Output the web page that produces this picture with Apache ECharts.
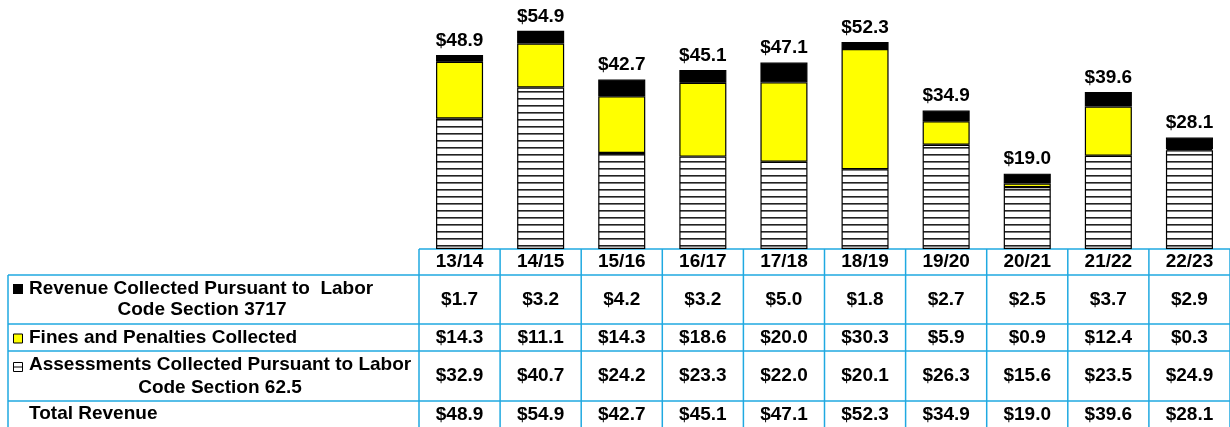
<!DOCTYPE html>
<html>
<head>
<meta charset="utf-8">
<script src="https://cdn.jsdelivr.net/npm/echarts@6/dist/echarts.min.js"></script>
<style>
  html, body { margin: 0; padding: 0; background: #fff; }
  #chart { width: 1230px; height: 427px; }
</style>
</head>
<body>
<div id="chart"></div>
<script>
// Fiscal years
const years = ['13/14', '14/15', '15/16', '16/17', '17/18', '18/19', '19/20', '20/21', '21/22', '22/23'];
// Revenue Collected Pursuant to Labor Code Section 3717 ($ millions)
const section3717 = [1.7, 3.2, 4.2, 3.2, 5.0, 1.8, 2.7, 2.5, 3.7, 2.9];
// Fines and Penalties Collected
const finesPenalties = [14.3, 11.1, 14.3, 18.6, 20.0, 30.3, 5.9, 0.9, 12.4, 0.3];
// Assessments Collected Pursuant to Labor Code Section 62.5
const assessments625 = [32.9, 40.7, 24.2, 23.3, 22.0, 20.1, 26.3, 15.6, 23.5, 24.9];
// Total Revenue
const totalRevenue = [48.9, 54.9, 42.7, 45.1, 47.1, 52.3, 34.9, 19.0, 39.6, 28.1];

const FONT = 'Liberation Sans';
const FS = 19;
const LINE = '#1fa9e1';
const fmt = v => '$' + v.toFixed(1);

// horizontal-stripe fill for the assessments segment
const hatch = document.createElement('canvas');
hatch.width = 8; hatch.height = 7;
const hc = hatch.getContext('2d');
hc.fillStyle = '#fff'; hc.fillRect(0, 0, 8, 7);
hc.fillStyle = '#222'; hc.fillRect(0, 0, 8, 1);
hc.fillStyle = '#777'; hc.fillRect(0, 1, 8, 1);

const chart = echarts.init(document.getElementById('chart'), null, { renderer: 'canvas' });

const boldText = { fontSize: FS, fontWeight: 'bold', color: '#000', fontFamily: FONT };

// table rows are extra category axes, labels centred at a set distance below the base line
const rowAxis = (vals, margin) => ({
  type: 'category', gridIndex: 0, position: 'bottom',
  data: vals.map(fmt),
  axisLine: { show: false }, axisTick: { show: false },
  axisLabel: Object.assign({ interval: 0, margin, verticalAlign: 'middle' }, boldText)
});

const seg = (name, data, color, extra) => Object.assign({
  name, type: 'bar', stack: 'rev', data, barWidth: '58%',
  xAxisIndex: 0, yAxisIndex: 0,
  itemStyle: { color, borderColor: '#000', borderWidth: 1.2 },
  emphasis: { disabled: true }
}, extra || {});

chart.setOption({
  animation: false,
  grid: { left: 419, top: 11, width: 812, height: 238, containLabel: false },
  yAxis: { type: 'value', min: 0, max: 60, show: false },
  xAxis: [
    {
      type: 'category', data: years,
      axisLine: { show: false }, axisTick: { show: false },
      axisLabel: Object.assign({ interval: 0, margin: 13, verticalAlign: 'middle' }, boldText)
    },
    rowAxis(section3717, 50.5),
    rowAxis(finesPenalties, 88.5),
    rowAxis(assessments625, 127),
    rowAxis(totalRevenue, 166)
  ],
  series: [
    seg('Assessments Collected Pursuant to Labor Code Section 62.5', assessments625, { image: hatch, repeat: 'repeat' }),
    seg('Fines and Penalties Collected', finesPenalties, '#ffff00'),
    seg('Revenue Collected Pursuant to Labor Code Section 3717', section3717, '#000', {
      label: Object.assign({
        show: true, position: 'top', distance: 5,
        formatter: p => '{t|' + fmt(totalRevenue[p.dataIndex]) + '}',
        rich: { t: Object.assign({}, boldText) }
      }, boldText)
    })
  ]
});

// data-table grid and row headings
function drawTable() {
  const c0 = chart.convertToPixel({ xAxisIndex: 0 }, years[0]);
  const c1 = chart.convertToPixel({ xAxisIndex: 0 }, years[1]);
  const band = c1 - c0;
  const left = c0 - band / 2;
  const axisY = chart.convertToPixel({ yAxisIndex: 0 }, 0);
  const W = chart.getWidth(), H = chart.getHeight();
  const rows = [275, 324, 351, 401];
  const els = [];
  const ln = (x1, y1, x2, y2) => els.push({
    type: 'line', shape: { x1, y1, x2, y2 }, silent: true,
    style: { stroke: LINE, lineWidth: 1.5 }
  });
  ln(left, axisY, W, axisY);
  rows.forEach(y => ln(8, y, W, y));
  ln(8, rows[0], 8, H);
  for (let k = 0; k <= years.length; k++) {
    const x = left + k * band;
    ln(x, axisY, x, H);
  }
  const txt = (x, y, text, align) => els.push({
    type: 'text', x, y, silent: true,
    style: { text, font: 'bold ' + FS + 'px "' + FONT + '"', fill: '#000', align: align || 'left', verticalAlign: 'middle' }
  });
  // Section 3717 row
  els.push({ type: 'rect', shape: { x: 13, y: 284, width: 10, height: 10 }, style: { fill: '#000' } });
  txt(29, 288.5, 'Revenue Collected Pursuant to  Labor');
  txt(202, 310, 'Code Section 3717', 'center');
  // Fines row
  els.push({ type: 'rect', shape: { x: 13.5, y: 334, width: 9, height: 9 }, style: { fill: '#ffff00', stroke: '#000', lineWidth: 1 } });
  txt(29, 338, 'Fines and Penalties Collected');
  // Assessments row
  els.push({ type: 'rect', shape: { x: 13.5, y: 362.5, width: 9, height: 9 }, style: { fill: '#fff', stroke: '#000', lineWidth: 1 } });
  els.push({ type: 'line', shape: { x1: 13.5, y1: 367, x2: 22.5, y2: 367 }, style: { stroke: '#000', lineWidth: 1 } });
  txt(29, 365, 'Assessments Collected Pursuant to Labor');
  txt(220, 387.5, 'Code Section 62.5', 'center');
  // Total row
  txt(29, 414, 'Total Revenue');
  chart.setOption({ graphic: { elements: els } });
}
drawTable();
</script>
</body>
</html>
